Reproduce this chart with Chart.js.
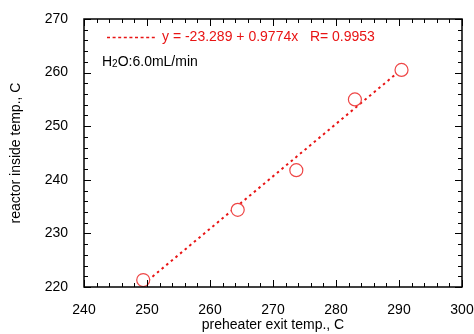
<!DOCTYPE html>
<html>
<head>
<meta charset="utf-8">
<script src="https://cdn.jsdelivr.net/npm/chart.js@4"></script>
<style>
  body { margin: 0; background: #fff; }
  canvas { display: block; }
</style>
</head>
<body>
<canvas id="chart" width="474" height="334"></canvas>
<script>
// measured points
var exitTemp = [249.4, 264.4, 273.7, 283.0, 290.4];
var insideTemp = [221.3, 234.4, 241.8, 255.0, 260.5];

// regression line end points (y = -23.289 + 0.9774x)
var fitX = [249.4, 290.4];
var fitY = [220.5, 260.6];
var fitLabel = 'y = -23.289 + 0.9774x   R= 0.9953';

var xTicks = [240, 250, 260, 270, 280, 290, 300];
var yTicks = [220, 230, 240, 250, 260, 270];

var FONT = "'Liberation Sans', Arial, sans-serif";
var RED = 'rgb(232, 20, 20)';

var points = exitTemp.map(function(x, i) { return { x: x, y: insideTemp[i] }; });
var fitPoints = fitX.map(function(x, i) { return { x: x, y: fitY[i] }; });

// inward ticks on all four sides plus the frame
var frameTicks = {
    id: 'frameTicks',
    afterDraw: function(chart) {
        var ctx = chart.ctx;
        var a = chart.chartArea;
        var xs = chart.scales.x, ys = chart.scales.y;
        ctx.save();
        ctx.strokeStyle = '#000';
        ctx.lineWidth = 1;
        var v, p, len;
        for (v = xs.min; v <= xs.max + 0.001; v += 2) {
            p = Math.round(xs.getPixelForValue(v)) + 0.5;
            len = (Math.round(v) % 10 === 0) ? 7 : 4;
            ctx.beginPath();
            ctx.moveTo(p, a.bottom); ctx.lineTo(p, a.bottom - len);
            ctx.moveTo(p, a.top); ctx.lineTo(p, a.top + len);
            ctx.stroke();
        }
        for (v = ys.min; v <= ys.max + 0.001; v += 2) {
            p = Math.round(ys.getPixelForValue(v)) + 0.5;
            len = (Math.round(v) % 10 === 0) ? 7 : 4;
            ctx.beginPath();
            ctx.moveTo(a.left, p); ctx.lineTo(a.left + len, p);
            ctx.moveTo(a.right, p); ctx.lineTo(a.right - len, p);
            ctx.stroke();
        }
        ctx.lineWidth = 1.5;
        ctx.strokeRect(a.left, a.top, a.right - a.left, a.bottom - a.top);

        // legend line + label
        ctx.strokeStyle = RED;
        ctx.lineWidth = 1.5;
        ctx.setLineDash([3, 2.6]);
        ctx.beginPath();
        ctx.moveTo(a.left + 23, 37.5); ctx.lineTo(a.left + 73, 37.5);
        ctx.stroke();
        ctx.setLineDash([]);
        ctx.font = '14px ' + FONT;
        ctx.fillStyle = RED;
        ctx.textBaseline = 'middle';
        ctx.fillText(fitLabel, a.left + 78, 37);

        // H2O note with subscript
        ctx.fillStyle = '#000';
        var x0 = a.left + 18, y0 = 62;
        ctx.fillText('H', x0, y0);
        x0 += ctx.measureText('H').width;
        ctx.font = '10px ' + FONT;
        ctx.fillText('2', x0, y0 + 2);
        x0 += ctx.measureText('2').width;
        ctx.font = '14px ' + FONT;
        ctx.fillText('O:6.0mL/min', x0, y0);
        ctx.restore();
    }
};

new Chart(document.getElementById('chart'), {
    type: 'scatter',
    data: {
        datasets: [{
            label: 'measured',
            data: points,
            order: 0,
            pointStyle: 'circle',
            pointRadius: 6.5,
            pointHoverRadius: 6.5,
            borderWidth: 1.2,
            borderColor: 'rgb(238, 70, 70)',
            backgroundColor: '#fff'
        }, {
            label: fitLabel,
            data: fitPoints,
            order: 1,
            showLine: true,
            pointRadius: 0,
            borderColor: RED,
            borderWidth: 2,
            borderDash: [2.5, 3.5],
            fill: false
        }]
    },
    options: {
        responsive: false,
        animation: false,
        layout: { padding: { top: 19, right: 12, left: 0, bottom: 0 } },
        plugins: {
            legend: { display: false },
            tooltip: { enabled: false }
        },
        scales: {
            x: {
                type: 'linear',
                min: 240,
                max: 300,
                afterBuildTicks: function(s) { s.ticks = xTicks.map(function(v) { return { value: v }; }); },
                afterFit: function(s) { s.height = 47; s.paddingLeft = 0; s.paddingRight = 0; },
                grid: { display: false, drawTicks: false },
                border: { display: false },
                ticks: { color: '#000', font: { family: FONT, size: 14 }, padding: 15, maxRotation: 0 },
                title: {
                    display: true,
                    text: 'preheater exit temp., C',
                    color: '#000',
                    font: { family: FONT, size: 14 },
                    padding: { top: 0, bottom: 0 }
                }
            },
            y: {
                type: 'linear',
                min: 220,
                max: 270,
                afterBuildTicks: function(s) { s.ticks = yTicks.map(function(v) { return { value: v }; }); },
                afterFit: function(s) { s.width = 84; s.paddingTop = 0; s.paddingBottom = 0; },
                grid: { display: false, drawTicks: false },
                border: { display: false },
                ticks: { color: '#000', font: { family: FONT, size: 14 }, padding: 16 },
                title: {
                    display: true,
                    text: 'reactor inside temp., C',
                    color: '#000',
                    font: { family: FONT, size: 14 },
                    padding: { top: 8, bottom: 0 }
                }
            }
        }
    },
    plugins: [frameTicks]
});
</script>
</body>
</html>
